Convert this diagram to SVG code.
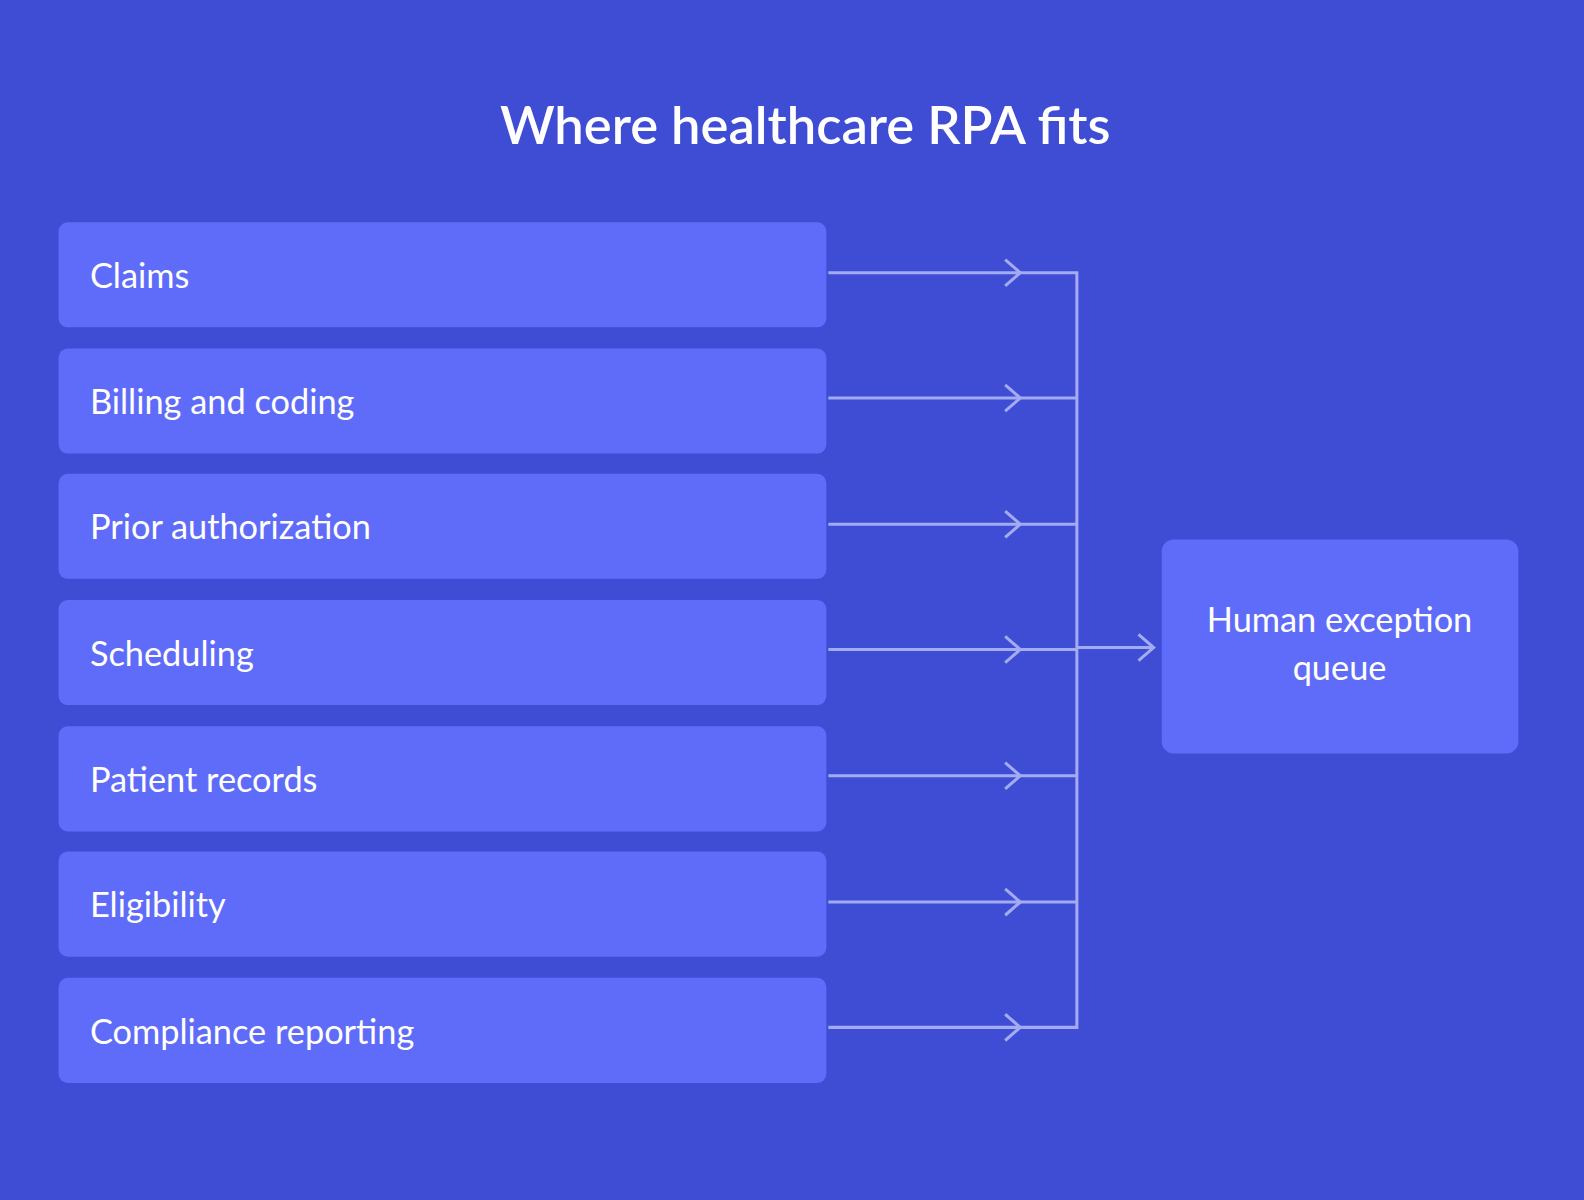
<svg xmlns="http://www.w3.org/2000/svg" width="1584" height="1200" viewBox="0 0 1584 1200">
<defs>
<style>
.box{fill:#5f6cf9}
.lbl{font-family:"Lato","Liberation Sans",sans-serif;font-size:34px;fill:#ffffff}
.ln{stroke:#a3abf2;stroke-width:3;fill:none}
</style>
<marker id="ah" viewBox="0 0 20 30" refX="18" refY="15" markerWidth="20" markerHeight="30" markerUnits="userSpaceOnUse" orient="auto"><path d="M3 2 L18 15 L3 28" fill="none" stroke="#a3abf2" stroke-width="3"/></marker>
</defs>
<rect width="1584" height="1200" fill="#3f4dd5"/>
<g transform="scale(1.0102)">
<text x="797" y="143" text-anchor="middle" font-family="Lato,'Liberation Sans',sans-serif" font-size="52" font-weight="600" fill="#fff">Where healthcare RPA fits</text>
<g id="n1"><rect class="box" x="58" y="220" width="760" height="104" rx="9"/><text class="lbl" x="89" y="285">Claims</text></g>
<g id="n2"><rect class="box" x="58" y="345" width="760" height="104" rx="9"/><text class="lbl" x="89" y="410">Billing and coding</text></g>
<g id="n3"><rect class="box" x="58" y="469" width="760" height="104" rx="9"/><text class="lbl" x="89" y="534">Prior authorization</text></g>
<g id="n4"><rect class="box" x="58" y="594" width="760" height="104" rx="9"/><text class="lbl" x="89" y="659">Scheduling</text></g>
<g id="n5"><rect class="box" x="58" y="719" width="760" height="104" rx="9"/><text class="lbl" x="89" y="784">Patient records</text></g>
<g id="n6"><rect class="box" x="58" y="843" width="760" height="104" rx="9"/><text class="lbl" x="89" y="908">Eligibility</text></g>
<g id="n7"><rect class="box" x="58" y="968" width="760" height="104" rx="9"/><text class="lbl" x="89" y="1033">Compliance reporting</text></g>
<g id="n8"><rect class="box" x="1150" y="534" width="353" height="212" rx="12"/><text class="lbl" x="1326" y="626" text-anchor="middle" font-size="32">Human exception</text><text class="lbl" x="1326" y="673" text-anchor="middle" font-size="32">queue</text></g>
<g id="connectors">
<path class="ln" d="M820 270 H1010" marker-end="url(#ah)"/>
<path class="ln" d="M820 394 H1010" marker-end="url(#ah)"/>
<path class="ln" d="M820 519 H1010" marker-end="url(#ah)"/>
<path class="ln" d="M820 643 H1010" marker-end="url(#ah)"/>
<path class="ln" d="M820 768 H1010" marker-end="url(#ah)"/>
<path class="ln" d="M820 893 H1010" marker-end="url(#ah)"/>
<path class="ln" d="M820 1017 H1010" marker-end="url(#ah)"/>
<path class="ln" d="M1010 270 H1066 V1017 H1010 M1010 394 H1066 M1010 519 H1066 M1010 643 H1066 M1010 768 H1066 M1010 893 H1066"/>
<path class="ln" d="M1066 641 H1142" marker-end="url(#ah)"/>
</g>
</g>
</svg>
